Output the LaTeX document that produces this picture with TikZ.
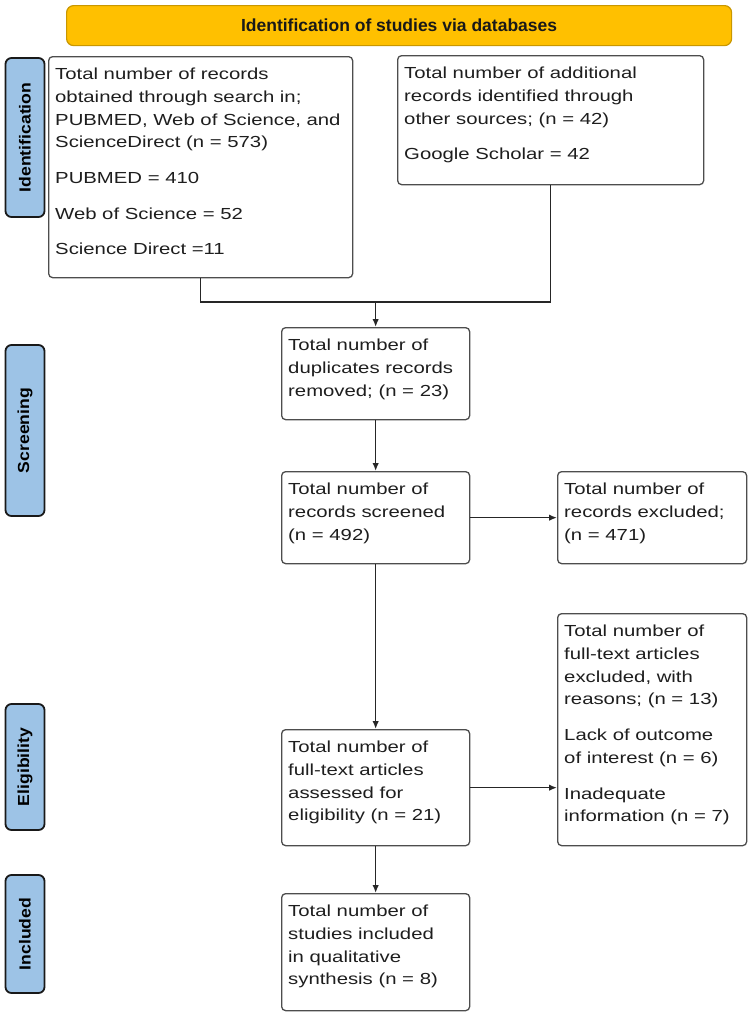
\documentclass[tikz,border=0pt]{standalone}
\usepackage{fontspec}
\setmainfont{Liberation Sans}
\newfontfamily\boxfont[FakeStretch=1.27]{Liberation Sans}
\newfontfamily\sidefont[FakeStretch=1.1]{Liberation Sans}
\usetikzlibrary{arrows.meta}
\definecolor{bannerfill}{HTML}{FFC000}
\definecolor{bannerdraw}{HTML}{C99700}
\definecolor{sidefill}{HTML}{9DC3E6}
\definecolor{boxdraw}{HTML}{4D4D4D}
\definecolor{txt}{HTML}{1E1E1E}
\begin{document}
\begin{tikzpicture}[x=1pt,y=-1pt,
  box/.style={draw=boxdraw, line width=1.3pt, rounded corners=4pt, fill=white, inner sep=0pt, anchor=north west},
  boxtext/.style={anchor=north west, inner sep=0pt, align=left, text=txt, font=\boxfont\fontsize{16}{22.7}\selectfont},
  side/.style={draw=black!90, fill=sidefill, line width=1.8pt, rounded corners=6pt, inner sep=0pt, anchor=center, rotate=90, minimum height=39pt, text=black, font=\sidefont\bfseries\fontsize{16}{19}\selectfont},
  banner/.style={draw=bannerdraw, fill=bannerfill, line width=1.2pt, rounded corners=7pt, inner sep=0pt, anchor=north west, text=black!90, font=\bfseries\fontsize{17.5}{20}\selectfont},
  link/.style={draw=black!85, line width=1.5pt},
  arr/.style={link, -{Latex[length=8pt,width=6.5pt]}},
]
\useasboundingbox (0,0) rectangle (750,1012);

% banner
\node[banner, minimum width=665pt, minimum height=40pt] (ban) at (66,5) {Identification of studies via databases};

% side labels
\node[side, minimum width=159pt] (s1) at (25,137.5) {Identification};
\node[side, minimum width=171pt] (s2) at (25,430.5) {Screening};
\node[side, minimum width=126pt] (s3) at (25,767) {Eligibility};
\node[side, minimum width=118pt] (s4) at (25,934) {Included};

% boxes
\node[box, minimum width=304pt, minimum height=221pt] (b1) at (48,56) {};
\node[box, minimum width=306pt, minimum height=129pt] (b2) at (397,55) {};
\node[box, minimum width=188pt, minimum height=92pt] (b3) at (281,327) {};
\node[box, minimum width=188pt, minimum height=92pt] (b4) at (281,471) {};
\node[box, minimum width=189pt, minimum height=92pt] (b5) at (557,471) {};
\node[box, minimum width=188pt, minimum height=116pt] (b6) at (281,729) {};
\node[box, minimum width=189pt, minimum height=232pt] (b7) at (557,613) {};
\node[box, minimum width=188pt, minimum height=117pt] (b8) at (281,893) {};

% box texts
\node[boxtext] (t1) at ([shift={(7,12)}]b1.north west) {Total number of records\\
obtained through search in;\\
PUBMED, Web of Science, and\\
ScienceDirect (n = 573)\\[13pt]
PUBMED = 410\\[13pt]
Web of Science = 52\\[13pt]
Science Direct =11};
\node[boxtext] (t2) at ([shift={(7,12)}]b2.north west) {Total number of additional\\
records identified through\\
other sources; (n = 42)\\[13pt]
Google Scholar = 42};
\node[boxtext] (t3) at ([shift={(7,12)}]b3.north west) {Total number of\\
duplicates records\\
removed; (n = 23)};
\node[boxtext] (t4) at ([shift={(7,12)}]b4.north west) {Total number of\\
records screened\\
(n = 492)};
\node[boxtext] (t5) at ([shift={(7,12)}]b5.north west) {Total number of\\
records excluded;\\
(n = 471)};
\node[boxtext] (t6) at ([shift={(7,12)}]b6.north west) {Total number of\\
full-text articles\\
assessed for\\
eligibility (n = 21)};
\node[boxtext] (t7) at ([shift={(7,12)}]b7.north west) {Total number of\\
full-text articles\\
excluded, with\\
reasons; (n = 13)\\[13pt]
Lack of outcome\\
of interest (n = 6)\\[13pt]
Inadequate\\
information (n = 7)};
\node[boxtext] (t8) at ([shift={(7,12)}]b8.north west) {Total number of\\
studies included\\
in qualitative\\
synthesis (n = 8)};

% connectors
\coordinate (j) at (b3.north |- 0,302);
\draw[link] (b1.south) |- (j) -| (b2.south);
\draw[arr] (j) -- (b3.north);
\draw[arr] (b3.south) -- (b4.north);
\draw[arr] (b4.east) -- (b5.west);
\draw[arr] (b4.south) -- (b6.north);
\draw[arr] (b6.east) -- (b6.east -| b7.west);
\draw[arr] (b6.south) -- (b8.north);
\end{tikzpicture}
\end{document}
